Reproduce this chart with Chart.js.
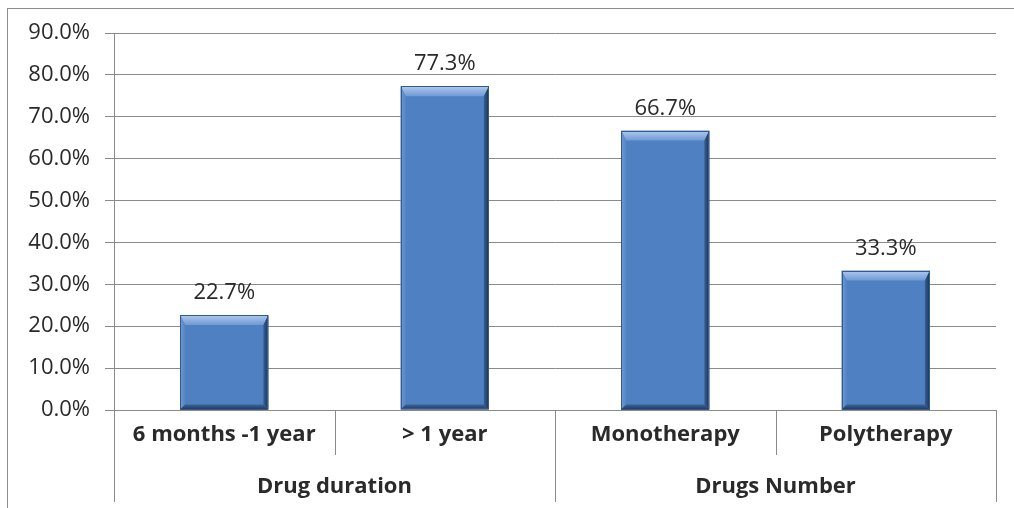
<!DOCTYPE html>
<html>
<head>
<meta charset="utf-8">
<script src="https://cdn.jsdelivr.net/npm/chart.js@4.4.0/dist/chart.umd.min.js"></script>
<style>
  html, body { margin: 0; padding: 0; background: #fff; overflow: hidden; }
  #wrap { width: 1014px; height: 508px; }
</style>
</head>
<body>
<div id="wrap"><canvas id="drugChart" width="1014" height="508"></canvas></div>
<script>
// chart data
const categories = ['6 months -1 year', '> 1 year', 'Monotherapy', 'Polytherapy'];
const groups = ['Drug duration', 'Drugs Number'];
const groupSizes = [2, 2];
const values = [22.7, 77.3, 66.7, 33.3];
const yMin = 0, yMax = 90, yStep = 10;

const lineColor = '#8a8a8a';
const textColor = '#2a2a2a';
const fontFamily = '"Open Sans", Lato, sans-serif';

// chart frame, two-level category labels and separators
const axisLabels = {
    id: 'axisLabels',
    beforeDraw(chart) {
        const ctx = chart.ctx;
        ctx.save();
        ctx.strokeStyle = '#8c8c8c';
        ctx.lineWidth = 1;
        ctx.strokeRect(7.5, 8.5, 1040, 540);
        ctx.restore();
    },
    afterDraw(chart) {
        const ctx = chart.ctx;
        const x = chart.scales.x;
        const area = chart.chartArea;
        const half = (x.getPixelForValue(1) - x.getPixelForValue(0)) / 2;
        const rowBottom = area.bottom + 45;
        const groupBottom = area.bottom + 92;

        ctx.save();
        ctx.strokeStyle = lineColor;
        ctx.lineWidth = 1;

        // separators: group edges run to the bottom, inner ones only through row 1
        let edges = [0];
        let n = 0;
        groupSizes.forEach(s => { n += s; edges.push(n); });
        for (let i = 0; i <= categories.length; i++) {
            const bx = Math.round(x.getPixelForValue(i) - half) + 0.5;
            const bottom = edges.includes(i) ? groupBottom : rowBottom;
            ctx.beginPath();
            ctx.moveTo(bx, area.bottom);
            ctx.lineTo(bx, bottom);
            ctx.stroke();
        }

        ctx.fillStyle = textColor;
        ctx.textAlign = 'center';
        ctx.textBaseline = 'middle';
        ctx.font = 'bold 22px ' + fontFamily;
        categories.forEach((c, i) => {
            ctx.fillText(c, x.getPixelForValue(i), area.bottom + 25);
        });

        let start = 0;
        groups.forEach((g, gi) => {
            const end = start + groupSizes[gi] - 1;
            const cx = (x.getPixelForValue(start) + x.getPixelForValue(end)) / 2;
            ctx.fillText(g, cx, area.bottom + 77);
            start = end + 1;
        });
        ctx.restore();
    }
};

// bevelled bars + value labels
const bevelBars = {
    id: 'bevelBars',
    afterDatasetsDraw(chart) {
        const ctx = chart.ctx;
        const meta = chart.getDatasetMeta(0);
        ctx.save();
        meta.data.forEach((bar, i) => {
            const x0 = bar.x - bar.width / 2, x1 = bar.x + bar.width / 2;
            const y0 = bar.y, y1 = bar.base;
            const b = Math.min(10, (y1 - y0) / 2);
            const bs = 5; // side / bottom bevel

            // top
            let g = ctx.createLinearGradient(0, y0, 0, y0 + b);
            g.addColorStop(0, '#b0caee');
            g.addColorStop(1, '#6f9ad4');
            ctx.fillStyle = g;
            ctx.beginPath();
            ctx.moveTo(x0, y0); ctx.lineTo(x1, y0);
            ctx.lineTo(x1 - bs, y0 + b); ctx.lineTo(x0 + bs, y0 + b);
            ctx.closePath(); ctx.fill();

            // left
            g = ctx.createLinearGradient(x0, 0, x0 + bs, 0);
            g.addColorStop(0, '#6f9ad4');
            g.addColorStop(1, '#5585c5');
            ctx.fillStyle = g;
            ctx.beginPath();
            ctx.moveTo(x0, y0); ctx.lineTo(x0 + bs, y0 + b);
            ctx.lineTo(x0 + bs, y1 - bs); ctx.lineTo(x0, y1);
            ctx.closePath(); ctx.fill();

            // right
            g = ctx.createLinearGradient(x1 - bs, 0, x1, 0);
            g.addColorStop(0, '#365f95');
            g.addColorStop(1, '#1c3352');
            ctx.fillStyle = g;
            ctx.beginPath();
            ctx.moveTo(x1, y0); ctx.lineTo(x1 - bs, y0 + b);
            ctx.lineTo(x1 - bs, y1 - bs); ctx.lineTo(x1, y1);
            ctx.closePath(); ctx.fill();

            // bottom
            g = ctx.createLinearGradient(0, y1 - bs, 0, y1);
            g.addColorStop(0, '#3a6399');
            g.addColorStop(1, '#22395a');
            ctx.fillStyle = g;
            ctx.beginPath();
            ctx.moveTo(x0, y1); ctx.lineTo(x0 + bs, y1 - bs);
            ctx.lineTo(x1 - bs, y1 - bs); ctx.lineTo(x1, y1);
            ctx.closePath(); ctx.fill();

            ctx.strokeStyle = '#35598a';
            ctx.lineWidth = 1;
            ctx.strokeRect(Math.round(x0) + 0.5, Math.round(y0) + 0.5, Math.round(x1 - x0) - 1, Math.round(y1 - y0) - 1);

            ctx.fillStyle = textColor;
            ctx.font = '22px ' + fontFamily;
            ctx.textAlign = 'center';
            ctx.textBaseline = 'alphabetic';
            ctx.fillText(values[i].toFixed(1) + '%', bar.x, y0 - 16);
        });
        ctx.restore();
    }
};

new Chart(document.getElementById('drugChart').getContext('2d'), {
    type: 'bar',
    data: {
        labels: categories,
        datasets: [{
            data: values,
            backgroundColor: '#4f81c2',
            borderWidth: 0,
            categoryPercentage: 1,
            barPercentage: 0.4
        }]
    },
    options: {
        responsive: false,
        animation: false,
        events: [],
        layout: { padding: { left: 0, right: 18, top: 33, bottom: 98 } },
        plugins: {
            legend: { display: false },
            tooltip: { enabled: false }
        },
        scales: {
            x: {
                grid: { drawOnChartArea: false, drawTicks: false },
                border: { display: true, color: lineColor },
                ticks: { display: false },
                afterFit: s => { s.height = 0; }
            },
            y: {
                min: yMin,
                max: yMax,
                grid: { color: lineColor, tickLength: 9, tickColor: lineColor },
                border: { display: true, color: lineColor },
                ticks: {
                    stepSize: yStep,
                    padding: 15,
                    color: textColor,
                    font: { family: fontFamily, size: 22 },
                    callback: v => v.toFixed(1) + '%'
                },
                afterFit: s => { s.width = 114; }
            }
        }
    },
    plugins: [axisLabels, bevelBars]
});
</script>
</body>
</html>
